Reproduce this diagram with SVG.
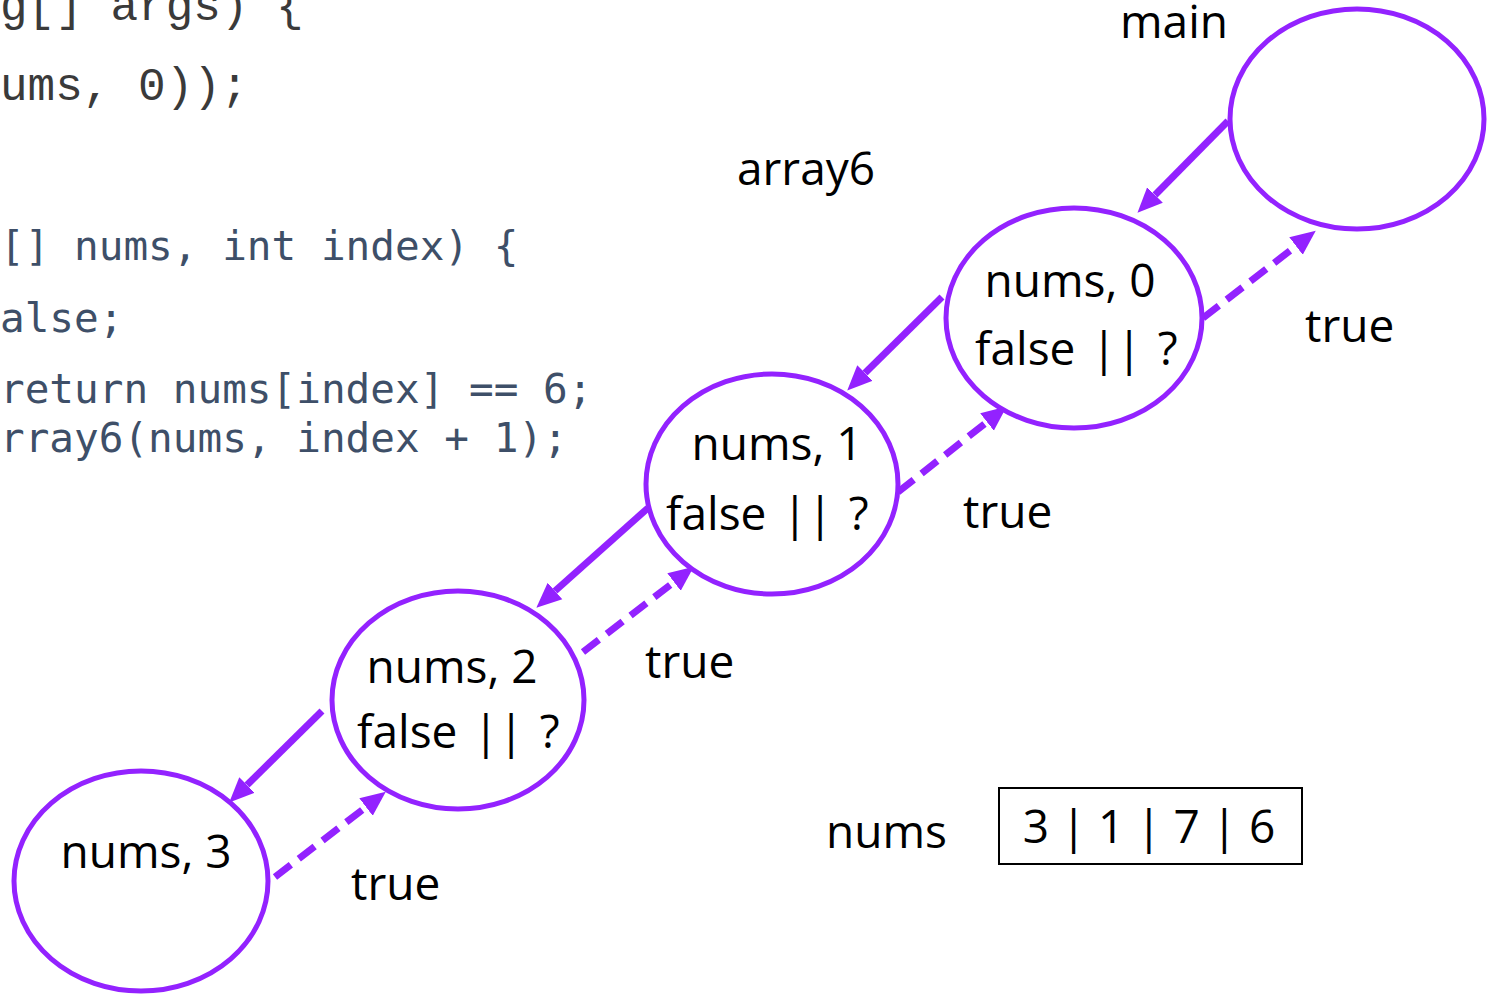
<svg xmlns="http://www.w3.org/2000/svg" width="1491" height="994" viewBox="0 0 1491 994">
<style>
.code1{font-family:"Liberation Mono","Courier New",monospace;font-size:46px;fill:#3a3a3a}
.code2{font-family:"DejaVu Sans Mono",monospace;font-size:41px;fill:#3e4f68}
.lbl{font-family:"Open Sans","Noto Sans",sans-serif;font-size:46px;fill:#000000}
.fl{word-spacing:4px}
.node{fill:#ffffff;stroke:#9322ff;stroke-width:5}
.call{stroke:#9322ff;stroke-width:7;fill:none}
.ret{stroke:#9322ff;stroke-width:7;fill:none;stroke-dasharray:20 10}
</style>
<defs>
<marker id="ah" viewBox="0 -12 26 24" markerWidth="26" markerHeight="24" refX="0" refY="0" orient="auto" markerUnits="userSpaceOnUse">
<path d="M0,-11 L25,0 L0,11 z" fill="#9322ff"/>
</marker>
</defs>
<rect width="1491" height="994" fill="#ffffff"/>
<g id="code">
<text class="code1" x="0" y="20">g[] args) {</text>
<text class="code1" x="0" y="100">ums, 0));</text>
<text class="code2" x="0" y="260">[] nums, int index) {</text>
<text class="code2" x="0" y="332">alse;</text>
<text class="code2" x="0" y="403">return nums[index] == 6;</text>
<text class="code2" x="0" y="452">rray6(nums, index + 1);</text>
</g>
<g id="labels">
<text class="lbl" x="1120" y="38">main</text>
<text class="lbl" x="737" y="185">array6</text>
</g>
<g id="connectors">
<line class="call" x1="1228" y1="121" x2="1155" y2="195" marker-end="url(#ah)"/>
<line class="call" x1="942" y1="297" x2="865" y2="373" marker-end="url(#ah)"/>
<line class="call" x1="648" y1="508" x2="555" y2="591" marker-end="url(#ah)"/>
<line class="call" x1="322" y1="711" x2="247" y2="785" marker-end="url(#ah)"/>
<line class="ret" x1="275" y1="877" x2="366" y2="807" marker-end="url(#ah)"/>
<line class="ret" x1="583" y1="652" x2="674" y2="582" marker-end="url(#ah)"/>
<line class="ret" x1="898" y1="492" x2="987" y2="422" marker-end="url(#ah)"/>
<line class="ret" x1="1203" y1="318" x2="1296" y2="246" marker-end="url(#ah)"/>
<text class="lbl" x="1305" y="342">true</text>
<text class="lbl" x="963" y="528">true</text>
<text class="lbl" x="645" y="678">true</text>
<text class="lbl" x="351" y="900">true</text>
</g>
<g id="main">
<ellipse class="node" cx="1357" cy="119" rx="127" ry="110"/>
</g>
<g id="n0">
<ellipse class="node" cx="1074" cy="318" rx="128" ry="110"/>
<text class="lbl" x="1070" y="297" text-anchor="middle">nums, 0</text>
<text class="lbl fl" x="975" y="365">false || ?</text>
</g>
<g id="n1">
<ellipse class="node" cx="772" cy="484" rx="126" ry="110"/>
<text class="lbl" x="777" y="460" text-anchor="middle">nums, 1</text>
<text class="lbl fl" x="666" y="530">false || ?</text>
</g>
<g id="n2">
<ellipse class="node" cx="458" cy="700" rx="126" ry="109"/>
<text class="lbl" x="452" y="683" text-anchor="middle">nums, 2</text>
<text class="lbl fl" x="357" y="748">false || ?</text>
</g>
<g id="n3">
<ellipse class="node" cx="141" cy="881" rx="127" ry="110"/>
<text class="lbl" x="146" y="868" text-anchor="middle">nums, 3</text>
</g>
<g id="array">
<text class="lbl" x="826" y="848">nums</text>
<rect x="999" y="788" width="303" height="76" fill="none" stroke="#000000" stroke-width="2"/>
<text class="lbl" x="1149" y="843" text-anchor="middle">3 | 1 | 7 | 6</text>
</g>
</svg>
